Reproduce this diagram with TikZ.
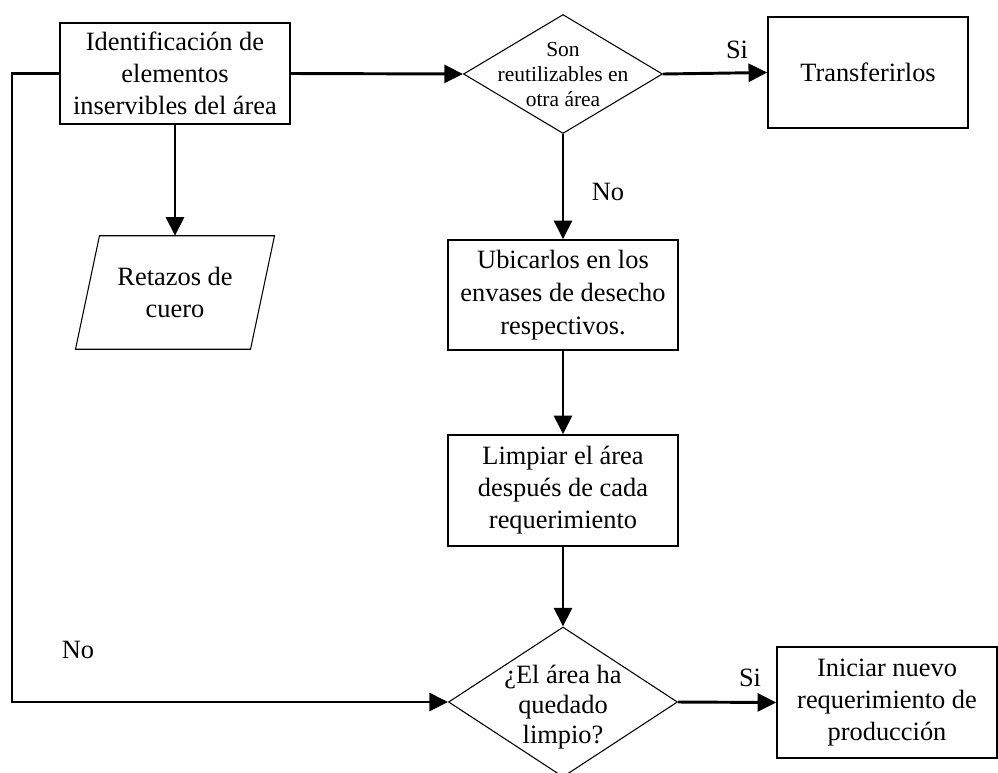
\documentclass[tikz,border=0pt]{standalone}
\usepackage{fontspec}
\setmainfont{Liberation Serif}
\usetikzlibrary{shapes.geometric,arrows.meta}
% one drawing unit = 0.75pt
\newcommand\pxu{0.75pt}
% multi-line label that does not enlarge its diamond; #1 = vertical shift
\newcommand\dtext[2]{\makebox[0pt]{\smash{\raisebox{#1}{\begin{tabular}{@{}c@{}}#2\end{tabular}}}}}
\begin{document}
\begin{tikzpicture}[x=0.75pt,y=-0.75pt,
  base/.style={font=\fontsize{19.8}{24}\selectfont},
  procbox/.style={base, draw, line width=1.2pt, inner sep=0pt, align=center},
  decision/.style={draw, diamond, line width=0.8pt, inner sep=0pt},
  flow/.style={line width=2.2pt, -{Triangle[length=14pt,width=13.5pt]}},
  lbl/.style={base, inner sep=0pt}]
\useasboundingbox (0,0) rectangle (998,772);
\clip (0,0) rectangle (998,772);

% process steps
\node[procbox, minimum width=230*\pxu, minimum height=101*\pxu] (ident) at (175,73.5)
  {Identificación de\\elementos\\inservibles del área};
\node[decision, minimum width=199*\pxu, minimum height=119*\pxu,
      font=\fontsize{16.1}{18.8}\selectfont] (reuse) at (563,74)
  {\dtext{-6.3pt}{Son\\reutilizables en\\otra área}};
\node[procbox, minimum width=200*\pxu, minimum height=111*\pxu] (transfer) at (868,72.5)
  {Transferirlos};
\node[base, align=center, inner sep=0pt, minimum width=174.5*\pxu, minimum height=113*\pxu]
  (scrap) at (175,292.5) {Retazos de\\cuero};
\draw[line width=0.8pt] ([xshift=12*\pxu]scrap.north west) -- ([xshift=12*\pxu]scrap.north east)
  -- ([xshift=-12*\pxu]scrap.south east) -- ([xshift=-12*\pxu]scrap.south west) -- cycle;
\node[procbox, minimum width=230*\pxu, minimum height=110*\pxu,
      font=\fontsize{19.8}{25}\selectfont] (place) at (563,295)
  {Ubicarlos en los\\envases de desecho\\respectivos.};
\node[procbox, minimum width=230*\pxu, minimum height=111*\pxu] (clean) at (563,490.5)
  {Limpiar el área\\después de cada\\requerimiento};
\node[decision, minimum width=229*\pxu, minimum height=150*\pxu,
      font=\fontsize{19.8}{22.5}\selectfont] (check) at (563,702)
  {\dtext{-9pt}{¿El área ha\\quedado\\limpio?}};
\node[procbox, minimum width=220*\pxu, minimum height=111*\pxu] (next) at (887,702.5)
  {Iniciar nuevo\\requerimiento de\\producción};

% connectors
\coordinate (loopx) at (12,0);
\draw[flow] (ident.east) -- (reuse.west);
\draw[flow] (reuse.east) -- (transfer.west);
\draw[flow] (ident.south) -- (scrap.north);
\draw[flow] (reuse.south) -- (place.north);
\draw[flow] (place.south) -- (clean.north);
\draw[flow] (clean.south) -- (check.north);
\draw[flow] (check.east) -- (next.west);
\draw[flow] (ident.west) -- (ident.west -| loopx) |- (check.west);

% branch labels
\node[lbl] (si1) at (737,50) {Si};
\node[lbl] (no1) at (608,192) {No};
\node[lbl] (si2) at (750,678) {Si};
\node[lbl] (no2) at (78,650) {No};
\end{tikzpicture}
\end{document}
